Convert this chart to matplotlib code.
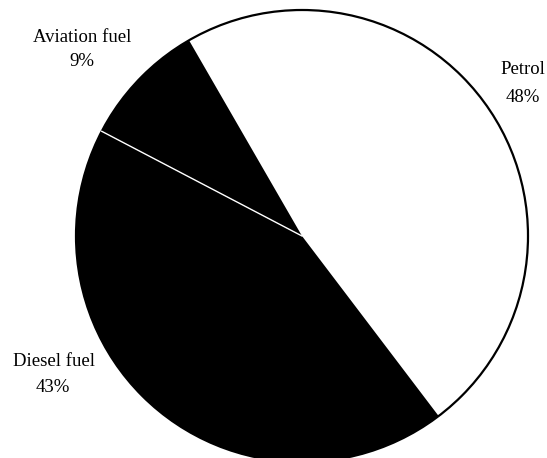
import matplotlib.pyplot as plt
from matplotlib.patches import Circle
import numpy as np

# Fuel shares (%)
labels = ["Petrol", "Aviation fuel", "Diesel fuel"]
shares = [48, 9, 43]
colors = ["white", "black", "black"]

plt.rcParams['font.family'] = ['Liberation Serif', 'DejaVu Serif']

W, H = 547, 458
fig = plt.figure(figsize=(W / 100, H / 100), dpi=100)
ax = fig.add_axes([0, 0, 1, 1])
ax.set_xlim(0, W)
ax.set_ylim(0, H)
ax.set_aspect('equal')
ax.axis('off')

cx, cy, r = 302, H - 236, 226
wedges, _ = ax.pie(shares, colors=colors, startangle=-52.8, counterclock=True,
                   center=(cx, cy), radius=r, frame=True,
                   wedgeprops=dict(linewidth=0))
ax.set_xlim(0, W)
ax.set_ylim(0, H)
ax.axis('off')

# outline of the pie
ax.add_patch(Circle((cx, cy), r, fill=False, edgecolor='black', lw=1.6, zorder=3))

# thin white divider between aviation and diesel
t = np.deg2rad(wedges[1].theta2)
ax.plot([cx, cx + r * np.cos(t)], [cy, cy + r * np.sin(t)], color='white', lw=1.0, zorder=4)

# labels
fs = 13.5
ax.text(82, H - 38, "Aviation fuel", ha='center', va='center', fontsize=fs)
ax.text(82, H - 61, f"{shares[1]}%", ha='center', va='center', fontsize=fs)
ax.text(523, H - 70, "Petrol", ha='center', va='center', fontsize=fs)
ax.text(523, H - 97, f"{shares[0]}%", ha='center', va='center', fontsize=fs)
ax.text(54, H - 362, "Diesel fuel", ha='center', va='center', fontsize=fs)
ax.text(53, H - 387, f"{shares[2]}%", ha='center', va='center', fontsize=fs)

fig.savefig('out.png', dpi=100)
